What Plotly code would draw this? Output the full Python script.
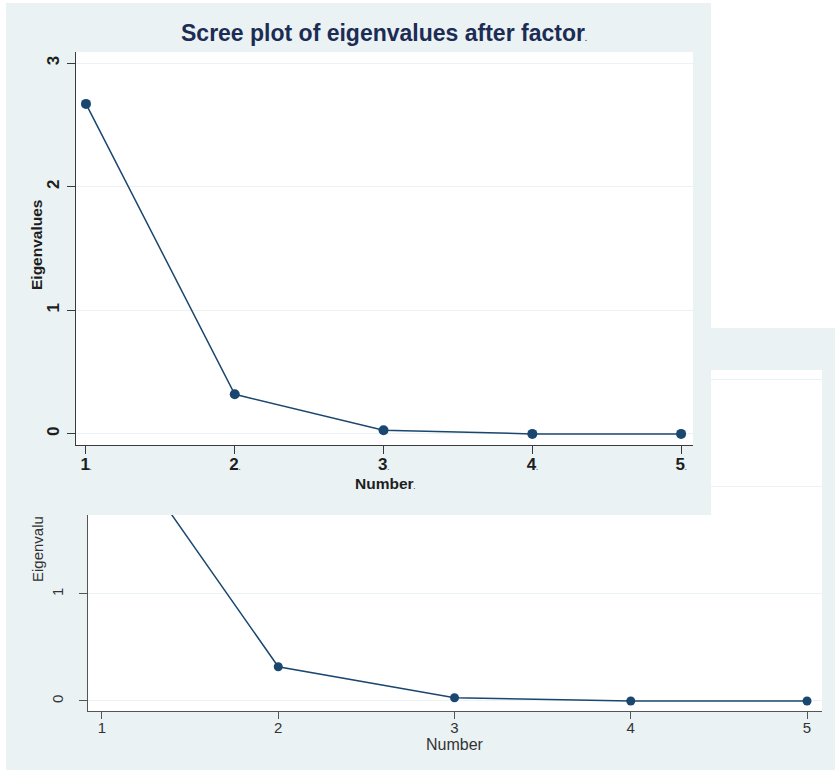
import plotly.graph_objects as go

# ---- data ----
factor_number = [1, 2, 3, 4, 5]
eigenvalues = [2.67, 0.32, 0.03, 0.0, 0.0]
y_tick_vals = [0, 1, 2, 3]
x_tick_vals = [1, 2, 3, 4, 5]
x_tick_text_front = [f"{v}<span style='font-size:6px'>.</span>" for v in x_tick_vals]
x_tick_text_back = [str(v) for v in x_tick_vals]
y_tick_text = [str(v) for v in y_tick_vals]

W, H = 835, 770
PANEL = "#eaf2f3"
NAVY = "#1a476f"
GRID = "#eaf2f3"
FONT = "Liberation Sans, Arial, sans-serif"


def fx(p):
    return p / W


def fy(p):
    return 1 - p / H


# domains (paper fractions)
back_dom_x = [fx(88), fx(822)]
back_dom_y = [fy(711), fy(370)]
cover_dom_x = [fx(6), fx(711)]
cover_dom_y = [fy(515), fy(3)]
front_dom_x = [fx(76), fx(693)]
front_dom_y = [fy(445), fy(52)]

fig = go.Figure()

# back chart (x, y)
fig.add_trace(go.Scatter(
    x=factor_number, y=eigenvalues, mode="lines+markers",
    line=dict(color=NAVY, width=1.5), marker=dict(color=NAVY, size=9),
    xaxis="x", yaxis="y", showlegend=False, hoverinfo="skip"))

# cover subplot (x2, y2) - invisible trace to create subplot
fig.add_trace(go.Scatter(
    x=[None], y=[None], mode="markers", xaxis="x2", yaxis="y2",
    showlegend=False, hoverinfo="skip"))

# front chart (x3, y3)
fig.add_trace(go.Scatter(
    x=factor_number, y=eigenvalues, mode="lines+markers",
    line=dict(color=NAVY, width=1.5), marker=dict(color=NAVY, size=10),
    xaxis="x3", yaxis="y3", showlegend=False, hoverinfo="skip"))


def rel(v, dom):
    return (v - dom[0]) / (dom[1] - dom[0])


shapes = [
    # back panel background
    dict(type="rect", xref="paper", yref="paper", x0=fx(6), x1=1, y0=0, y1=fy(328),
         fillcolor=PANEL, line=dict(width=0), layer="below"),
    # back plot area
    dict(type="rect", xref="paper", yref="paper", x0=back_dom_x[0], x1=back_dom_x[1],
         y0=back_dom_y[0], y1=back_dom_y[1], fillcolor="white", line=dict(width=0), layer="below"),
    # front panel (covers back chart)
    dict(type="rect", xref="x2", yref="y2", x0=0, x1=1, y0=0, y1=1,
         fillcolor=PANEL, line=dict(width=0), layer="below"),
    # front plot area
    dict(type="rect", xref="x2", yref="y2",
         x0=rel(front_dom_x[0], cover_dom_x), x1=rel(front_dom_x[1], cover_dom_x),
         y0=rel(front_dom_y[0], cover_dom_y), y1=rel(front_dom_y[1], cover_dom_y),
         fillcolor="white", line=dict(width=0), layer="below"),
]

annotations = [
    dict(text="Scree plot of eigenvalues after factor<span style='font-size:7px'>.</span>",
         x=fx(384), y=fy(33), xref="paper", yref="paper", showarrow=False,
         xanchor="center", yanchor="middle",
         font=dict(family=FONT, size=23, color="#1c2c55", weight="bold")),
    dict(text="Eigenvalues", x=fx(37), y=fy(245), xref="paper", yref="paper",
         showarrow=False, textangle=-90, xanchor="center", yanchor="middle",
         font=dict(family=FONT, size=15.5, color="#1e1e1e", weight="bold")),
    dict(text="Number<span style='font-size:6px'>.</span>", x=fx(385), y=fy(483),
         xref="paper", yref="paper", showarrow=False, xanchor="center", yanchor="middle",
         font=dict(family=FONT, size=15.5, color="#1e1e1e", weight="bold")),
    dict(text="Eigenvalu", x=fx(37), y=fy(549), xref="paper", yref="paper",
         showarrow=False, textangle=-90, xanchor="center", yanchor="middle",
         font=dict(family=FONT, size=15, color="#333333")),
    dict(text="Number", x=fx(455), y=fy(744), xref="paper", yref="paper",
         showarrow=False, xanchor="center", yanchor="middle",
         font=dict(family=FONT, size=16, color="#333333")),
]

fig.update_layout(
    width=W, height=H, margin=dict(l=0, r=0, t=0, b=0),
    paper_bgcolor="white", plot_bgcolor="rgba(0,0,0,0)",
    shapes=shapes, annotations=annotations,
    font=dict(family=FONT),
    xaxis=dict(domain=back_dom_x, anchor="y", range=[0.9206, 5.085],
               tickmode="array", tickvals=x_tick_vals, ticktext=x_tick_text_back,
               showgrid=False, zeroline=False, showline=True, linecolor="#555555", linewidth=1.2,
               ticks="outside", ticklen=7, tickcolor="#555555", ticklabelstandoff=-4,
               tickfont=dict(size=15, color="#333333")),
    yaxis=dict(domain=back_dom_y, anchor="x", range=[-0.0935, 3.093],
               tickmode="array", tickvals=y_tick_vals, ticktext=y_tick_text,
               showgrid=True, gridcolor=GRID, gridwidth=1.2, zeroline=False,
               showline=True, linecolor="#555555", linewidth=1.2,
               ticks="outside", ticklen=8, tickcolor="#555555", tickangle=-90,
               ticklabelstandoff=10,
               tickfont=dict(size=15, color="#333333")),
    xaxis2=dict(domain=cover_dom_x, anchor="y2", range=[0, 1], visible=False, fixedrange=True),
    yaxis2=dict(domain=cover_dom_y, anchor="x2", range=[0, 1], visible=False, fixedrange=True),
    xaxis3=dict(domain=front_dom_x, anchor="y3", range=[0.933, 5.08],
                tickmode="array", tickvals=x_tick_vals, ticktext=x_tick_text_front,
                showgrid=False, zeroline=False, showline=True, linecolor="#3a3a3a", linewidth=1.3,
                ticks="outside", ticklen=8, tickcolor="#3a3a3a", ticklabelstandoff=-5,
                tickfont=dict(size=17, color="#1e1e1e", weight="bold")),
    yaxis3=dict(domain=front_dom_y, anchor="x3", range=[-0.09, 3.09],
                tickmode="array", tickvals=y_tick_vals, ticktext=y_tick_text,
                showgrid=True, gridcolor=GRID, gridwidth=1.2, zeroline=False,
                showline=True, linecolor="#3a3a3a", linewidth=1.3,
                ticks="outside", ticklen=8, tickcolor="#3a3a3a", tickangle=-90,
                ticklabelstandoff=1,
                tickfont=dict(size=17, color="#1e1e1e", weight="bold")),
)

fig.write_html(
    "out.html",
    config={"displayModeBar": False},
    post_script="document.body.style.margin='0px';document.body.style.padding='0px';",
)
